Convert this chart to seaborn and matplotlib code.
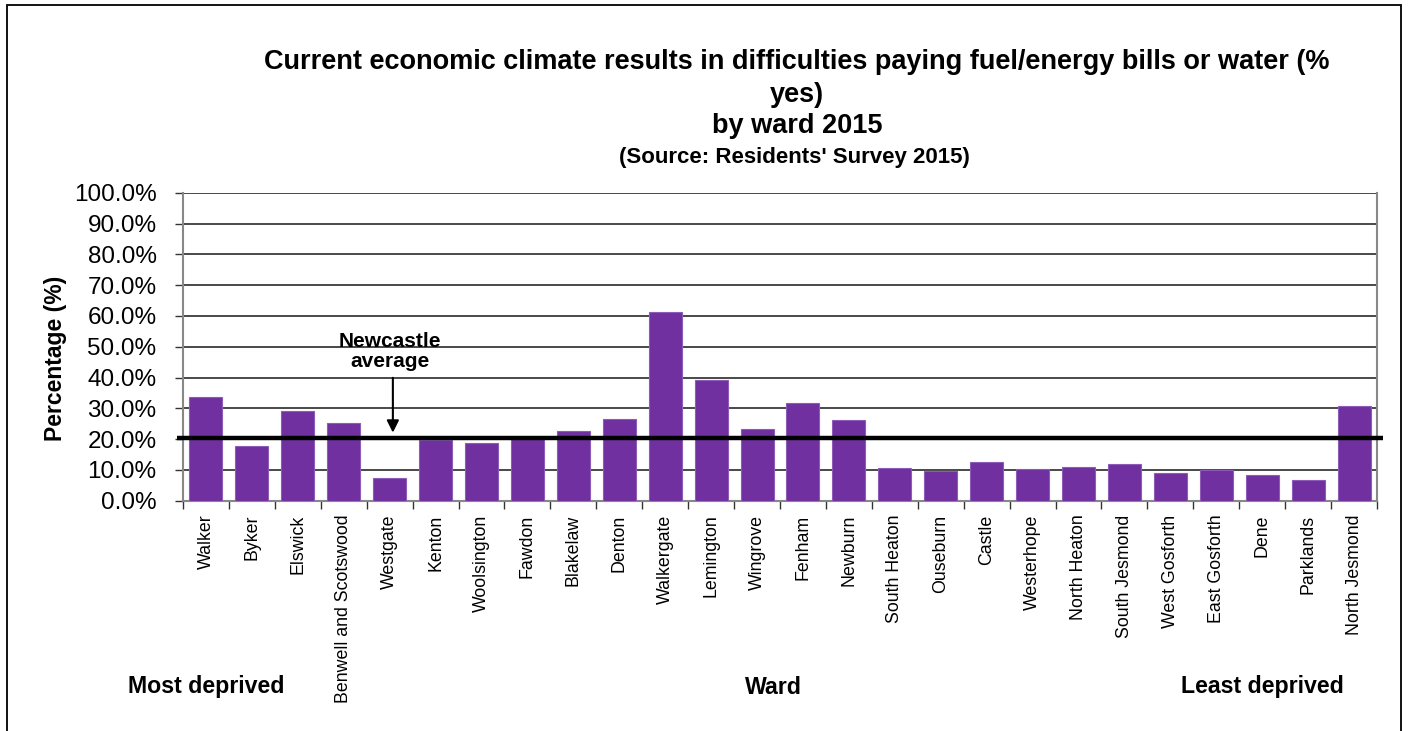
import numpy as np
import pandas as pd
import matplotlib
matplotlib.use("Agg")
import matplotlib.pyplot as plt
import seaborn as sns
from matplotlib.patches import Rectangle

wards = ["Walker", "Byker", "Elswick", "Benwell and Scotswood", "Westgate", "Kenton",
         "Woolsington", "Fawdon", "Blakelaw", "Denton", "Walkergate", "Lemington",
         "Wingrove", "Fenham", "Newburn", "South Heaton", "Ouseburn", "Castle",
         "Westerhope", "North Heaton", "South Jesmond", "West Gosforth", "East Gosforth",
         "Dene", "Parklands", "North Jesmond"]
pct_yes = [33.8, 17.9, 29.2, 25.2, 7.5, 19.7, 18.6, 20.1, 22.7, 26.6, 61.3, 39.2,
           23.2, 31.7, 26.1, 10.7, 9.7, 12.7, 10.3, 11.0, 11.8, 8.9, 9.9, 8.2, 6.7, 30.8]
newcastle_avg = 20.2

title_lines = ["Current economic climate results in difficulties paying fuel/energy bills or water (%",
               "yes)", "by ward 2015"]
source_line = "(Source: Residents' Survey 2015)"

sns.set_theme(style="white")
plt.rcParams['font.family'] = ['Liberation Sans', 'DejaVu Sans']
plt.rcParams['text.color'] = 'black'
plt.rcParams['axes.labelcolor'] = 'black'
plt.rcParams['xtick.color'] = 'black'
plt.rcParams['ytick.color'] = 'black'

W, H = 1410, 731
fig = plt.figure(figsize=(W / 100, H / 100), dpi=100)
ax = fig.add_axes([183 / W, 1 - 500.7 / H, (1377 - 183) / W, (500.7 - 192.7) / H])

df = pd.DataFrame({"ward": wards, "pct": pct_yes})
sns.barplot(data=df, x="ward", y="pct", color="#7030A0", saturation=1, width=0.72,
            edgecolor="#8c5cb8", linewidth=0.8, ax=ax, zorder=3)

ax.set_xlim(-0.5, len(wards) - 0.5)
ax.set_ylim(0, 100)
ax.set_yticks(np.arange(0, 101, 10))
ax.set_yticklabels([f"{v:.1f}%" for v in np.arange(0, 101, 10)], fontsize=17.5, color="black")
ax.yaxis.grid(True, color="#3a3a3a", linewidth=1.3, zorder=0)
ax.xaxis.grid(False)
ax.set_axisbelow(True)

ax.set_xticks(range(len(wards)))
ax.set_xticklabels(wards, rotation=90, fontsize=12.8, color="black")
ax.tick_params(axis="x", which="major", length=0, pad=10)
ax.set_xticks(np.arange(-0.5, len(wards), 1), minor=True)
ax.tick_params(axis="x", which="minor", length=6, width=1, color="#333333", direction="out", bottom=True)
ax.tick_params(axis="y", length=6, width=1, color="#333333", direction="out", left=True, pad=13)

for side in ["left", "bottom", "right"]:
    ax.spines[side].set_visible(True)
    ax.spines[side].set_color("#888888")
    ax.spines[side].set_linewidth(1.5)
ax.spines["top"].set_visible(False)

ax.set_xlabel("")
ax.set_ylabel("Percentage (%)", fontsize=16.5, fontweight="bold")
ax.yaxis.set_label_coords((67 - 183) / 1194, 0.463)

# Newcastle average line
ax.plot([-0.62, len(wards) - 0.38], [newcastle_avg, newcastle_avg], color="black",
        linewidth=3.2, zorder=5, clip_on=False, solid_capstyle="butt")
ax.annotate("", xy=(4.07, newcastle_avg + 1.0), xytext=(4.07, 40.8),
            arrowprops=dict(arrowstyle="-|>", color="black", lw=1.5, mutation_scale=18), zorder=6)
ax.text(4.0, 48.4, "Newcastle\naverage", ha="center", va="center", fontsize=15,
        fontweight="bold", linespacing=1.05, zorder=6)

# titles
fig.text(797 / W, 1 - 62 / H, title_lines[0], ha="center", va="center", fontsize=19.5, fontweight="bold")
fig.text(797 / W, 1 - 95 / H, title_lines[1], ha="center", va="center", fontsize=19.5, fontweight="bold")
fig.text(797 / W, 1 - 126 / H, title_lines[2], ha="center", va="center", fontsize=19.5, fontweight="bold")
fig.text(794 / W, 1 - 157 / H, source_line, ha="center", va="center", fontsize=16, fontweight="bold")

fig.text(206 / W, 1 - 687 / H, "Most deprived", ha="center", va="center", fontsize=16.7, fontweight="bold")
fig.text(773 / W, 1 - 687 / H, "Ward", ha="center", va="center", fontsize=16.7, fontweight="bold")
fig.text(1262 / W, 1 - 687 / H, "Least deprived", ha="center", va="center", fontsize=16.7, fontweight="bold")

# chart frame
fig.patches.append(Rectangle((6.5 / W, -0.05), (1401 - 6.5) / W, 1.05 - 5.5 / H,
                             transform=fig.transFigure, fill=False, edgecolor="black", linewidth=1.3))

fig.savefig("out.png", dpi=100)
